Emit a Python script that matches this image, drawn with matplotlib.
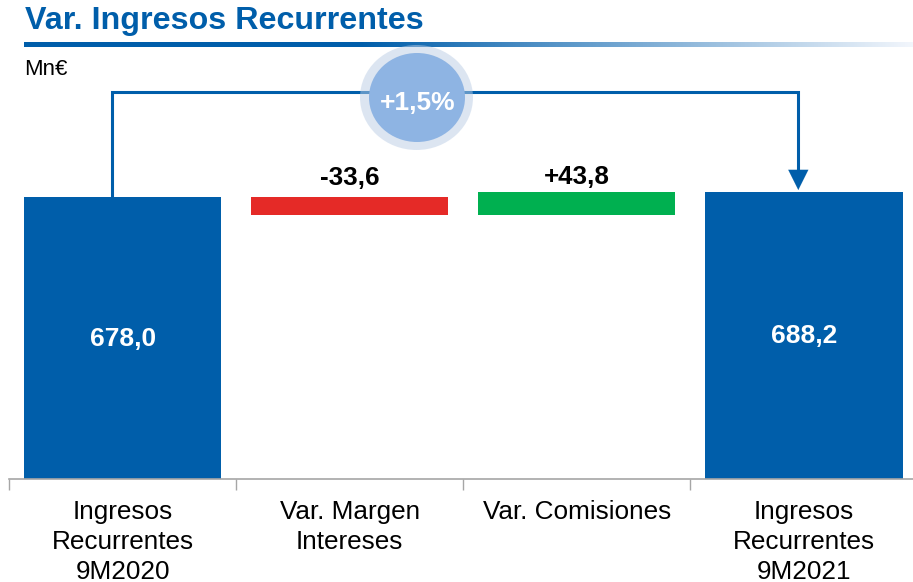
import numpy as np
import matplotlib
matplotlib.use("Agg")
import matplotlib.pyplot as plt
from matplotlib.patches import Ellipse

plt.rcParams['font.family'] = ['Liberation Sans', 'DejaVu Sans']

# data
categories = ["Ingresos\nRecurrentes\n9M2020", "Var. Margen\nIntereses",
              "Var. Comisiones", "Ingresos\nRecurrentes\n9M2021"]
start_value = 678.0
deltas = [-33.6, 43.8]
end_value = 688.2
value_labels = ["678,0", "-33,6", "+43,8", "688,2"]
pct_label = "+1,5%"

BLUE = "#005EAA"
RED = "#E52A27"
GREEN = "#00B050"

W, H = 913, 582
fig = plt.figure(figsize=(W / 100, H / 100), dpi=100)

# main chart axes (baseline at y=479 px, top at 60 px)
ax = fig.add_axes([9 / W, (H - 479) / H, 904 / W, (479 - 60) / H])
ymin = 156
ax.set_ylim(ymin, ymin + 419 / 0.54)
ax.set_xlim(-0.5, 3.48)

x = np.arange(len(categories))
bw = 0.868

# totals
ax.bar(x[0], start_value - ymin, bottom=ymin, width=bw, color=BLUE, zorder=2)
ax.bar(x[3], end_value - ymin, bottom=ymin, width=bw, color=BLUE, zorder=2)

# deltas
level = start_value
label_gap = [22, 14]
for i, d in enumerate(deltas):
    col = RED if d < 0 else GREEN
    bottom = level + min(d, 0)
    ax.bar(x[i + 1], abs(d), bottom=bottom, width=bw, color=col, zorder=2)
    ax.text(x[i + 1], max(level, level + d) + label_gap[i], value_labels[i + 1],
            ha="center", va="baseline", fontsize=18.7, fontweight="bold", color="black")
    level += d

mid0 = ymin + (start_value - ymin) * 0.5
ax.text(x[0], mid0 - 2, value_labels[0], ha="center", va="center",
        fontsize=19, fontweight="bold", color="white", zorder=3)
ax.text(x[3], mid0 + 4, value_labels[3], ha="center", va="center",
        fontsize=19, fontweight="bold", color="white", zorder=3)

# connector arrow
top_y = 873
xl, xr = x[0] - 0.045, x[3] - 0.025
ax.plot([xl, xl, xr, xr], [start_value, top_y, top_y, end_value + 20], color=BLUE,
        lw=2.2, solid_joinstyle="miter", zorder=1)
ax.annotate("", xy=(xr, end_value + 3), xytext=(xr, end_value + 30),
            arrowprops=dict(arrowstyle="-|>,head_length=0.9,head_width=0.45",
                            color=BLUE, lw=0.1, mutation_scale=16,
                            shrinkA=0, shrinkB=0), zorder=1)

# axis styling
for s in ["top", "right", "left"]:
    ax.spines[s].set_visible(False)
ax.spines["bottom"].set_color("#A6A6A6")
ax.spines["bottom"].set_linewidth(1.2)
ax.set_yticks([])
ax.set_xticks(np.arange(-0.5, 3.5, 1.0))
ax.tick_params(axis="x", length=8, color="#A6A6A6", width=1, labelbottom=False)
for i, c in enumerate(categories):
    ax.text(x[i], ymin - 38, c, ha="center", va="top", fontsize=18.8,
            linespacing=1.32, clip_on=False)

# overlay in pixel coordinates
ov = fig.add_axes([0, 0, 1, 1], zorder=3)
ov.axis("off")
ov.patch.set_visible(False)

ov.text(25, 29, "Var. Ingresos Recurrentes", fontsize=23.2, fontweight="bold",
        color=BLUE, ha="left", va="baseline")
ov.text(24, 75, "Mn€", fontsize=16, color="black", ha="left", va="baseline")

# gradient rule under the title
n = 400
xs = np.linspace(24, W, n)
t = np.clip((xs - 360) / (W - 360), 0, 1)[None, :, None]
c0 = np.array([0, 94, 170]) / 255
c1 = np.array([242, 246, 252]) / 255
grad = c0 * (1 - t) + c1 * t
ov.imshow(grad, extent=[24, W, 46.7, 42], aspect="auto", interpolation="bilinear")
ov.set_xlim(0, W)
ov.set_ylim(H, 0)

# percent bubble
ov.add_patch(Ellipse((416.5, 97.5), 113, 105, color="#BBCDE5", alpha=0.5, lw=0))
ov.add_patch(Ellipse((417, 97.5), 96, 89, color="#8EB4E3", lw=0))
ov.text(417.5, 102.5, pct_label, fontsize=19, fontweight="bold", color="white",
        ha="center", va="center")

fig.savefig("out.png", dpi=100)
